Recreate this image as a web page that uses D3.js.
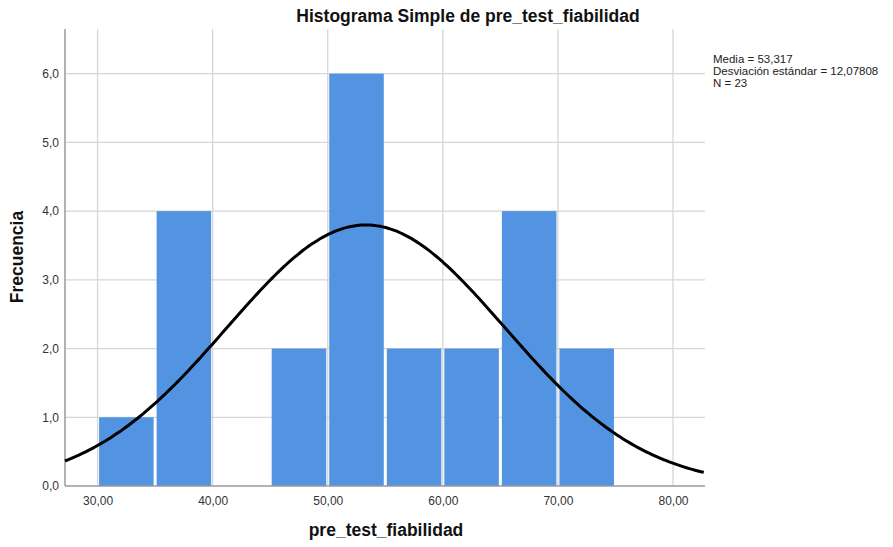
<!DOCTYPE html>
<html lang="es">
<head>
<meta charset="UTF-8">
<title>Histograma</title>
<style>
  body { margin: 0; background: #fff; font-family: "Liberation Sans", Arial, sans-serif; }
  .tick text { fill: #333; font-size: 12px; }
</style>
</head>
<body>
<script src="https://d3js.org/d3.v7.min.js"></script>
<div id="chart"></div>
<script>
// bins (lower, upper) and counts
var binStart = [30, 35, 40, 45, 50, 55, 60, 65, 70]
var binEnd   = [35, 40, 45, 50, 55, 60, 65, 70, 75]
var counts   = [1, 4, 0, 2, 6, 2, 2, 4, 2]
var xTicks = [30, 40, 50, 60, 70, 80]
var yTicks = [0, 1, 2, 3, 4, 5, 6]
var media = 53.317, desv = 12.07808, n = 23
var statLines = ["Media = 53,317", "Desviación estándar = 12,07808", "N = 23"]

var width = 893, height = 547
// note: "top" is reserved on window, so plot edges get their own names
var pLeft = 65, pRight = 705, pTop = 29, pBottom = 486

var svg = d3.select("#chart").append("svg")
  .attr("width", width).attr("height", height)

var x = d3.scaleLinear().domain([27.17, 82.78]).range([pLeft, pRight])
var y = d3.scaleLinear().domain([0, 6.65]).range([pBottom, pTop])

var fmtX = function(d){ return d3.format(".2f")(d).replace(".", ",") }
var fmtY = function(d){ return d3.format(".1f")(d).replace(".", ",") }

// grid
svg.append("g").selectAll("line").data(xTicks).join("line")
  .attr("x1", d => x(d)).attr("x2", d => x(d))
  .attr("y1", pTop).attr("y2", pBottom)
  .attr("stroke", "#d6d6d6").attr("stroke-width", 1.3)
svg.append("g").selectAll("line").data(yTicks.slice(1)).join("line")
  .attr("x1", pLeft).attr("x2", pRight)
  .attr("y1", d => y(d)).attr("y2", d => y(d))
  .attr("stroke", "#d6d6d6").attr("stroke-width", 1.3)

// bars
var bins = counts.map(function(c, i){ return {x0: binStart[i], x1: binEnd[i], c: c} })
  .filter(d => d.c > 0)
svg.append("g").selectAll("rect").data(bins).join("rect")
  .attr("x", d => x(d.x0) + 1.5)
  .attr("width", d => x(d.x1) - x(d.x0) - 3)
  .attr("y", d => y(d.c))
  .attr("height", d => y(0) - y(d.c))
  .attr("fill", "#5294e2")

// axes
var xAxis = d3.axisBottom(x).tickValues(xTicks).tickFormat(fmtX).tickSize(0).tickPadding(10)
var yAxis = d3.axisLeft(y).tickValues(yTicks).tickFormat(fmtY).tickSize(0).tickPadding(6)
var gx = svg.append("g").attr("transform", "translate(0," + pBottom + ")").call(xAxis)
var gy = svg.append("g").attr("transform", "translate(" + pLeft + ",0)").call(yAxis)
gx.select(".domain").remove()
gy.select(".domain").remove()
svg.append("line").attr("x1", pLeft).attr("x2", pRight).attr("y1", pBottom).attr("y2", pBottom)
  .attr("stroke", "#9a9a9a").attr("stroke-width", 1.5)
svg.append("line").attr("x1", pLeft).attr("x2", pLeft).attr("y1", pTop).attr("y2", pBottom)
  .attr("stroke", "#9a9a9a").attr("stroke-width", 1.5)

// fitted normal curve from the stated mean, sd and N (bin width 5)
var curve = d3.range(x.domain()[0], x.domain()[1] + 0.01, 0.25).map(function(v){
  var z = (v - media) / desv
  return [v, n * 5 / (desv * Math.sqrt(2 * Math.PI)) * Math.exp(-0.5 * z * z)]
})
svg.append("path").datum(curve)
  .attr("fill", "none").attr("stroke", "#000").attr("stroke-width", 3)
  .attr("d", d3.line().x(d => x(d[0])).y(d => y(d[1])).curve(d3.curveBasis))

// texts
svg.append("text").attr("x", 468).attr("y", 22).attr("text-anchor", "middle")
  .style("font-size", "17.5px").style("font-weight", "bold").attr("fill", "#111")
  .text("Histograma Simple de pre_test_fiabilidad")
svg.append("text").attr("x", 386).attr("y", 536).attr("text-anchor", "middle")
  .style("font-size", "17.5px").style("font-weight", "bold").attr("fill", "#111")
  .text("pre_test_fiabilidad")
svg.append("text").attr("transform", "translate(23,257) rotate(-90)").attr("text-anchor", "middle")
  .style("font-size", "17.5px").style("font-weight", "bold").attr("fill", "#111")
  .text("Frecuencia")
svg.append("g").selectAll("text").data(statLines).join("text")
  .attr("x", 713).attr("y", (d, i) => 63 + i * 12)
  .style("font-size", "11.5px").attr("fill", "#222")
  .text(d => d)
</script>
</body>
</html>
